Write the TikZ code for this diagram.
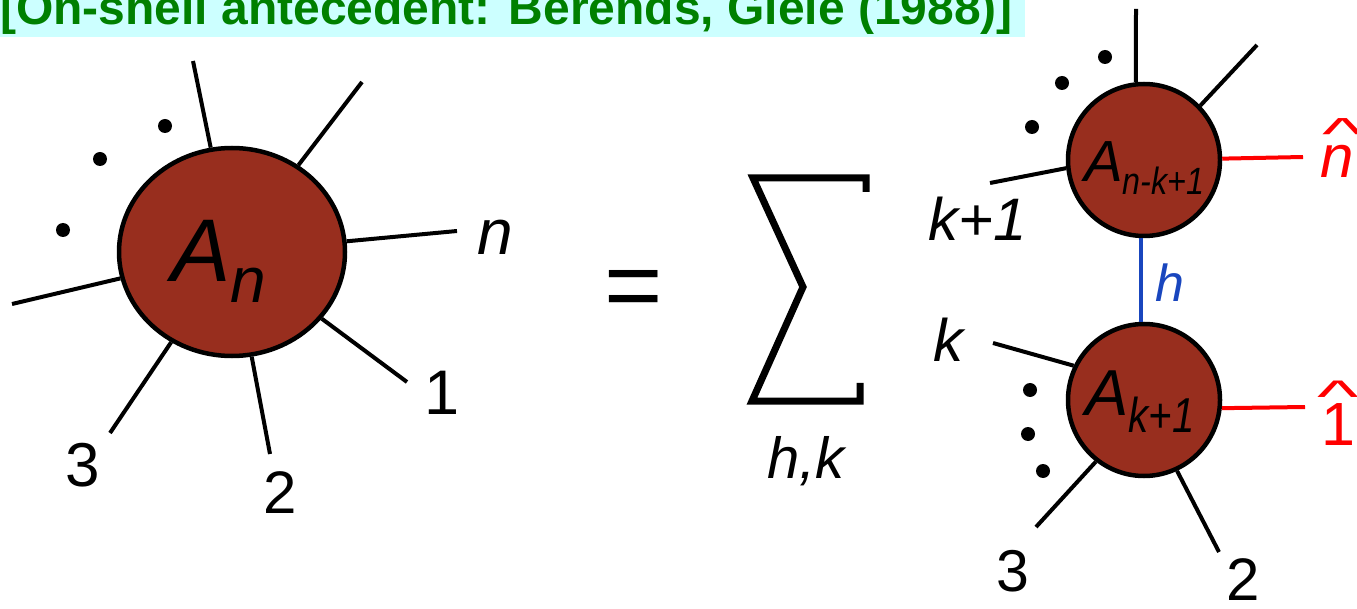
\documentclass[tikz,border=0pt]{standalone}
\usepackage{fontspec}
\setmainfont{Liberation Sans}
\usetikzlibrary{shapes.geometric}
\definecolor{blob}{RGB}{152,46,30}
\definecolor{bannerbg}{RGB}{204,255,255}
\definecolor{bannerfg}{RGB}{0,128,0}
\definecolor{hblue}{RGB}{25,70,190}
\newcommand{\fs}[1]{\fontsize{#1}{#1}\selectfont}
% #1 glyph, #2 raise of the hat, #3 twice the shift to the right
\newcommand{\hatted}[3]{\ooalign{#1\cr\hidewidth\kern#3\raisebox{#2}{\upshape\scalebox{1.45}[0.75]{\textasciicircum}}\hidewidth\cr}}
\begin{document}
\begin{tikzpicture}[x=1pt,y=-1pt,
  leg/.style={line width=4pt},
  bl/.style={circle,draw,line width=4.5pt,fill=blob,inner sep=0pt,minimum size=152pt},
  dot/.style={circle,fill,inner sep=0pt,minimum size=14pt},
  lbl/.style={inner sep=0pt},
]
\useasboundingbox (0,0) rectangle (1357,609);
% banner
\fill[bannerbg] (0,0) rectangle (1025,37);
\node[lbl,anchor=base west,text=bannerfg] (banner) at (0,25)
  {\fs{48}\bfseries [On-shell antecedent: Berends, Giele (1988)]};

% left blob
\node[ellipse,draw,line width=4.5pt,fill=blob,inner sep=0pt,minimum width=226pt,minimum height=208pt] (An) at (232,252) {};
\coordinate (la) at (193,61);
\coordinate (lb) at (362,82);
\coordinate (lc) at (457,231);
\coordinate (ld) at (407,382);
\coordinate (le) at (270,454);
\coordinate (lf) at (110,433);
\coordinate (lg) at (12,304);
\foreach \p in {la,lb,lc,ld,le,lf,lg} \draw[leg] (An) -- (\p);
\node[dot] (d1) at (63,230) {};
\node[dot] (d2) at (100,159) {};
\node[dot] (d3) at (165,126) {};
\node[lbl,anchor=base west] (Antxt) at (171,282) {\fs{89}\itshape A\raisebox{-21pt}{\fs{64}n}};
\node[lbl] (ln) at (495,237) {\fs{64}\itshape n};
\node[lbl] (l1) at (442,393) {\fs{63}1};
\node[lbl] (l2) at (280,493) {\fs{60}2};
\node[lbl] (l3) at (83,465) {\fs{62}3};

% equals and sum
\node[lbl,anchor=base] (eq) at (634,320) {\fs{100}=};
\draw[line width=7pt,miter limit=10] (866,192) -- (866,178) -- (753,178) -- (803,287) -- (752,401) -- (860,401) -- (860,383);
\node[lbl,anchor=base] (hk) at (806,478) {\fs{58}\itshape h,k};

% right blobs
\node[bl] (tb) at (1144,160) {};
\node[bl] (bb) at (1144,400) {};
\coordinate (ta) at (1136,9);
\coordinate (tbb) at (1257,45);
\coordinate (tc) at (990,183);
\coordinate (td) at (1303,157);
\draw[leg] (tb.96) -- (ta);
\draw[leg] (tb.44) -- (tbb);
\draw[leg] (tb.186) -- (tc);
\draw[leg,red] (tb.1) -- (td);
\draw[leg,hblue] (tb.-92) -- (bb.92);
\coordinate (ba) at (993,343);
\coordinate (bbb) at (1305,407);
\coordinate (bc) at (1036,527);
\coordinate (bd) at (1219,552);
\draw[leg] (bb.154) -- (ba);
\draw[leg,red] (bb.-6) -- (bbb);
\draw[leg] (bb.232) -- (bc);
\draw[leg] (bb.295) -- (bd);
\node[dot] (e1) at (1105,57) {};
\node[dot] (e2) at (1062,83) {};
\node[dot] (e3) at (1032,127) {};
\node[dot] (f1) at (1030,390) {};
\node[dot] (f2) at (1028,434) {};
\node[dot] (f3) at (1043,471) {};
\node[lbl,anchor=base west] (Atop) at (1084,182) {\fs{58}\itshape A\raisebox{-13pt}{\scalebox{0.85}[1]{\fs{38}n-k+1}}};
\node[lbl,anchor=base west] (Abot) at (1085,415) {\fs{65}\itshape A\raisebox{-17pt}{\scalebox{0.82}[1]{\fs{49}k+1}}};
\node[lbl] (kp1) at (978,219) {\fs{60}\itshape k+1};
\node[lbl] (kk) at (948,340) {\fs{60}\itshape k};
\node[lbl,text=hblue] (hh) at (1170,283) {\fs{52}\itshape h};
\node[lbl] (r3) at (1013,571) {\fs{59}3};
\node[lbl] (r2) at (1243,580) {\fs{60}2};
\node[lbl,anchor=base west,text=red] (nhat) at (1320,178) {\fs{60}\itshape\hatted{n}{28pt}{12pt}};
\node[lbl,anchor=base west,text=red] (onehat) at (1321,445) {\fs{61}\hatted{1}{33pt}{0pt}};
\end{tikzpicture}
\end{document}
